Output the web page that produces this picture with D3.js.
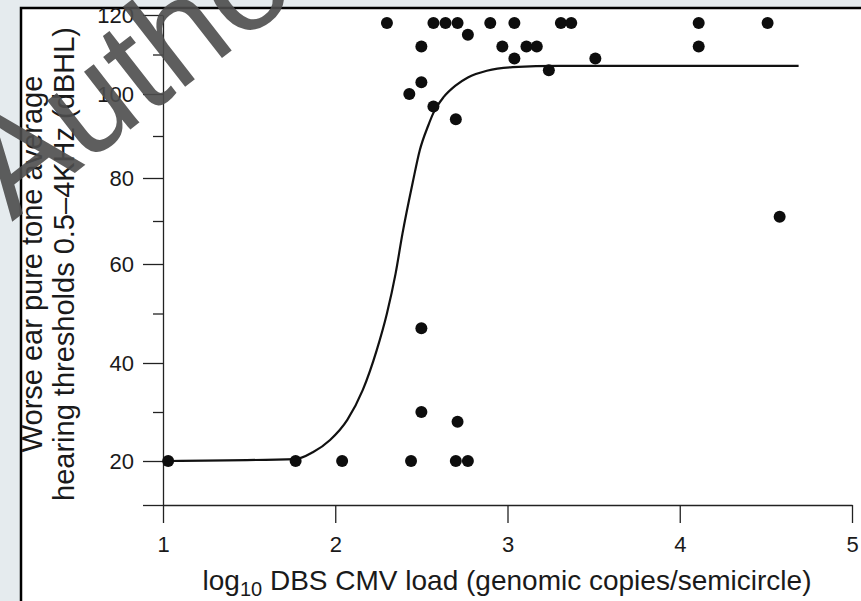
<!DOCTYPE html>
<head>
<meta charset="utf-8">
<script src="https://d3js.org/d3.v7.min.js"></script>
<style>
body {
    margin: 0;
    background-color: #e5ebee;
}
svg text {
    font-family: "Liberation Sans", Arial, sans-serif;
    fill: #1a1a1a;
}
.axis path, .axis line {
    stroke: #222;
    stroke-width: 1.3;
}
</style>
</head>
<div id="my_dataviz"></div>
<script>

// points: log10 DBS CMV load vs worse ear PTA (dBHL)
var loadVals = [1.03, 1.77, 2.04, 2.44, 2.70, 2.77,
                2.50, 2.71, 2.50, 4.58,
                2.30, 2.57, 2.64, 2.71, 2.90, 3.04, 3.31, 3.37, 4.11, 4.51,
                2.50, 2.97, 3.11, 3.17, 4.11,
                2.77, 3.04, 3.24, 3.51,
                2.50, 2.43, 2.57, 2.70];
var hearingVals = [20, 20, 20, 20, 20, 20,
                   30, 28, 47, 71,
                   118, 118, 118, 118, 118, 118, 118, 118, 118, 118,
                   112, 112, 112, 112, 112,
                   115, 109, 106, 109,
                   103, 100, 97, 94];

// fitted curve
var fitLoad = [1.03, 1.77, 1.87, 1.97, 2.07, 2.16, 2.24, 2.30, 2.35, 2.39, 2.45, 2.49, 2.54, 2.57, 2.63, 2.70, 2.77, 2.88, 3.03, 3.30, 4.69];
var fitHearing = [20, 20.4, 21.8, 24.3, 28.4, 34.5, 42.5, 50, 58, 67, 79, 86.5, 92.5, 95.5, 99.3, 102.2, 104.2, 105.9, 106.8, 107.1, 107.1];

var xTicks = [1, 2, 3, 4, 5];
var yMajor = [10, 20, 40, 60, 80, 100, 120];
var yMinor = [30, 50, 70, 90, 110];

var width = 861, height = 601;

var svg = d3.select("#my_dataviz")
  .append("svg")
    .attr("width", width)
    .attr("height", height)
    .style("display", "block");

// white panel with black frame
svg.append("rect")
    .attr("x", 21)
    .attr("y", 8)
    .attr("width", 900)
    .attr("height", 700)
    .style("fill", "white")
    .style("stroke", "black")
    .style("stroke-width", 2.5);

var x = d3.scaleLinear()
    .domain([1, 5])
    .range([163, 852]);

// the printed y axis is not evenly spaced, so follow the tick marks
var y = d3.scaleLinear()
    .domain([10, 20, 40, 60, 80, 100, 120])
    .range([505, 461, 363, 264, 178, 94, 15]);

// axes
svg.append("g")
    .attr("class", "axis")
    .attr("transform", "translate(163,0)")
    .style("font-size", "22px")
    .call(d3.axisLeft(y).tickValues(yMajor).tickSize(20).tickSizeOuter(0).tickPadding(9)
        .tickFormat(function(d){ return d === 10 ? "" : d; }));

svg.append("g")
    .attr("class", "axis")
    .attr("transform", "translate(163,0)")
    .call(d3.axisLeft(y).tickValues(yMinor).tickSize(10).tickSizeOuter(0).tickFormat(""))
    .select(".domain").remove();

svg.append("g")
    .attr("class", "axis")
    .attr("transform", "translate(0,505)")
    .style("font-size", "22px")
    .call(d3.axisBottom(x).tickValues(xTicks).tickSize(18).tickSizeOuter(0).tickPadding(13)
        .tickFormat(d3.format("d")));

svg.selectAll(".axis text").style("fill", "#1a1a1a").attr("font-family", null);

// fitted curve
var fitData = fitLoad.map(function(d, i){ return [d, fitHearing[i]]; });
svg.append("path")
    .datum(fitData)
    .attr("d", d3.line()
        .x(function(d){ return x(d[0]); })
        .y(function(d){ return y(d[1]); })
        .curve(d3.curveMonotoneX))
    .style("fill", "none")
    .style("stroke", "#111")
    .style("stroke-width", 2.2);

// points
svg.selectAll("circle.pt")
  .data(loadVals.map(function(d, i){ return [d, hearingVals[i]]; }))
  .enter()
  .append("circle")
    .attr("class", "pt")
    .attr("cx", function(d){ return x(d[0]); })
    .attr("cy", function(d){ return y(d[1]); })
    .attr("r", 6)
    .style("fill", "#0d0d0d");

// axis titles
svg.append("text")
    .attr("x", 507)
    .attr("y", 590)
    .attr("text-anchor", "middle")
    .style("font-size", "28px")
    .html('log<tspan dy="6" font-size="20px">10</tspan><tspan dy="-6"> DBS CMV load (genomic copies/semicircle)</tspan>');

var yTitle = svg.append("text")
    .attr("transform", "translate(0,264) rotate(-90)")
    .attr("text-anchor", "middle")
    .style("font-size", "29px");
yTitle.append("tspan").attr("x", 0).attr("y", 42).text("Worse ear pure tone average");
yTitle.append("tspan").attr("x", 0).attr("y", 74).text("hearing thresholds 0.5\u20134KHz (dBHL)");

// watermark across the top-left corner
svg.append("text")
    .attr("transform", "translate(12,222) rotate(-38)")
    .style("font-size", "140px")
    .style("fill", "#4d4d4d")
    .style("opacity", 0.9)
    .text("Author");

</script>
<body>
</body>
